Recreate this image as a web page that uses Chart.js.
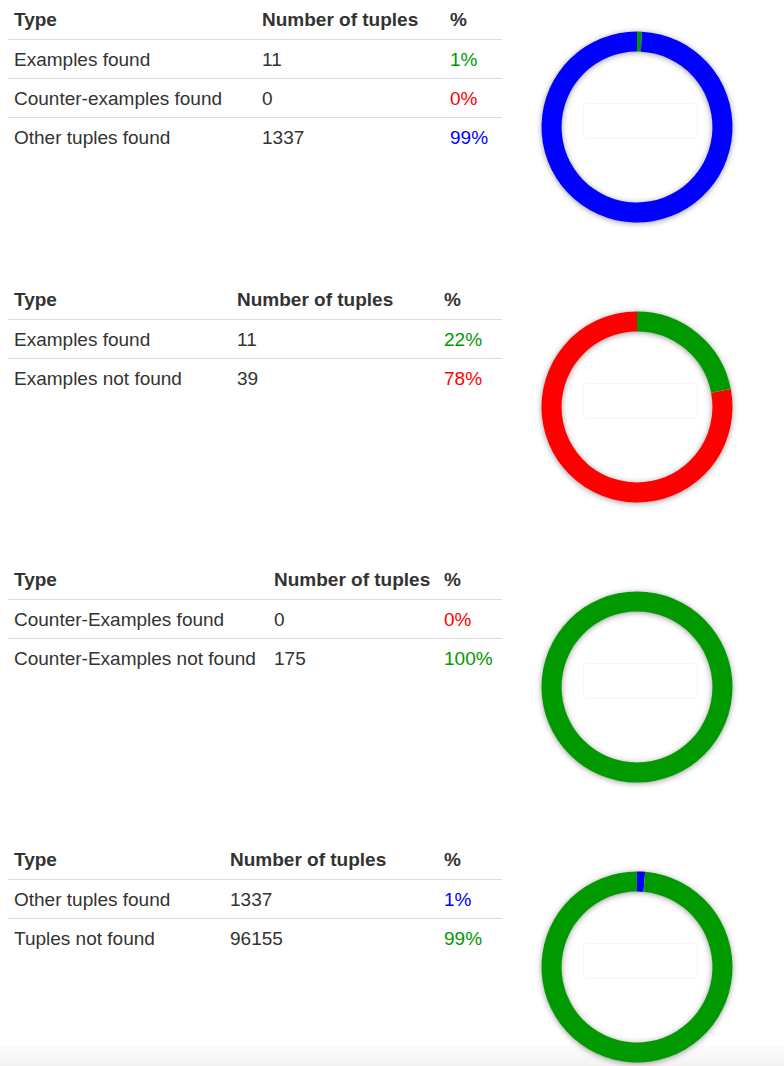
<!DOCTYPE html>
<html>
<head>
<meta charset="utf-8">
<script src="https://cdn.jsdelivr.net/npm/chart.js@4/dist/chart.umd.min.js"></script>
<style>
  body { margin: 0; background: #fff; font-family: "Liberation Sans", Arial, sans-serif; color: #333; }
  .section { position: absolute; left: 0; width: 784px; height: 280px; }
  table { position: absolute; left: 8px; top: 0; width: 494px; border-collapse: collapse; table-layout: fixed; font-size: 19px; }
  th, td { text-align: left; padding: 1px 6px 0 6px; height: 37px; white-space: nowrap; }
  th { font-weight: bold; height: 38px; }
  tbody tr td { border-top: 1px solid #dcdcdc; }
  .chartbox { position: absolute; left: 527px; top: 17px; width: 220px; height: 220px; }
  .ghost { position: absolute; left: 583px; top: 103px; width: 113px; height: 34px; border: 1px solid #f6f6f6; border-radius: 5px; }
  .foot { position: absolute; left: 0; top: 1046px; width: 784px; height: 20px; background: linear-gradient(#fcfcfc, #f3f3f3); }
</style>
</head>
<body>
<div class="foot"></div>
<div id="page"></div>
<script>
// >>>>>>>>>> data, one group per table / donut
const types1 = ["Examples found", "Counter-examples found", "Other tuples found"];
const counts1 = [11, 0, 1337];
const pct1 = ["1%", "0%", "99%"];
const colors1 = ["#009900", "#ff0000", "#0000ff"];

const types2 = ["Examples found", "Examples not found"];
const counts2 = [11, 39];
const pct2 = ["22%", "78%"];
const colors2 = ["#009900", "#ff0000"];

const types3 = ["Counter-Examples found", "Counter-Examples not found"];
const counts3 = [0, 175];
const pct3 = ["0%", "100%"];
const colors3 = ["#ff0000", "#009900"];

const types4 = ["Other tuples found", "Tuples not found"];
const counts4 = [1337, 96155];
const pct4 = ["1%", "99%"];
const colors4 = ["#0000ff", "#009900"];

const headers = ["Type", "Number of tuples", "%"];

// column widths per table (layout only)
const colWidths = [[248, 188, 58], [223, 207, 64], [260, 170, 64], [216, 214, 64]];

const groups = [
  [types1, counts1, pct1, colors1],
  [types2, counts2, pct2, colors2],
  [types3, counts3, pct3, colors3],
  [types4, counts4, pct4, colors4]
];

// soft grey ring under the donut
const ringShadow = {
  id: "ringShadow",
  beforeDatasetsDraw(chart) {
    const arc = chart.getDatasetMeta(0).data[0];
    if (!arc) return;
    const ctx = chart.ctx;
    ctx.save();
    ctx.shadowColor = "rgba(0,0,0,0.45)";
    ctx.shadowBlur = 6;
    ctx.shadowOffsetY = 1;
    ctx.fillStyle = "#ffffff";
    ctx.beginPath();
    ctx.arc(arc.x, arc.y, arc.outerRadius - 0.5, 0, Math.PI * 2);
    ctx.arc(arc.x, arc.y, arc.innerRadius + 0.5, Math.PI * 2, 0, true);
    ctx.closePath();
    ctx.fill();
    ctx.restore();
  }
};

const page = document.getElementById("page");

groups.forEach(function (g, i) {
  const types = g[0], counts = g[1], pct = g[2], colors = g[3];
  const sec = document.createElement("div");
  sec.className = "section";
  sec.style.top = (i * 280) + "px";

  //>>>>>>>>>> table
  let html = "<table><colgroup>";
  colWidths[i].forEach(function (w) { html += '<col style="width:' + w + 'px">'; });
  html += "</colgroup><thead><tr>";
  headers.forEach(function (h) { html += "<th>" + h + "</th>"; });
  html += "</tr></thead><tbody>";
  types.forEach(function (t, j) {
    html += "<tr><td>" + t + "</td><td>" + counts[j] + '</td><td style="color:' + colors[j] + '">' + pct[j] + "</td></tr>";
  });
  html += "</tbody></table>";
  html += '<div class="ghost"></div>';
  html += '<div class="chartbox"><canvas id="donut' + i + '"></canvas></div>';
  sec.innerHTML = html;
  page.appendChild(sec);

  //>>>>>>>>>> donut
  new Chart("donut" + i, {
    type: "doughnut",
    data: {
      labels: types,
      datasets: [{
        data: counts,
        backgroundColor: colors,
        borderWidth: 0,
        hoverOffset: 0
      }]
    },
    options: {
      responsive: true,
      maintainAspectRatio: false,
      animation: false,
      cutout: "79%",
      layout: { padding: 14.5 },
      plugins: { legend: { display: false }, tooltip: { enabled: false } }
    },
    plugins: [ringShadow]
  });
});
</script>
</body>
</html>
